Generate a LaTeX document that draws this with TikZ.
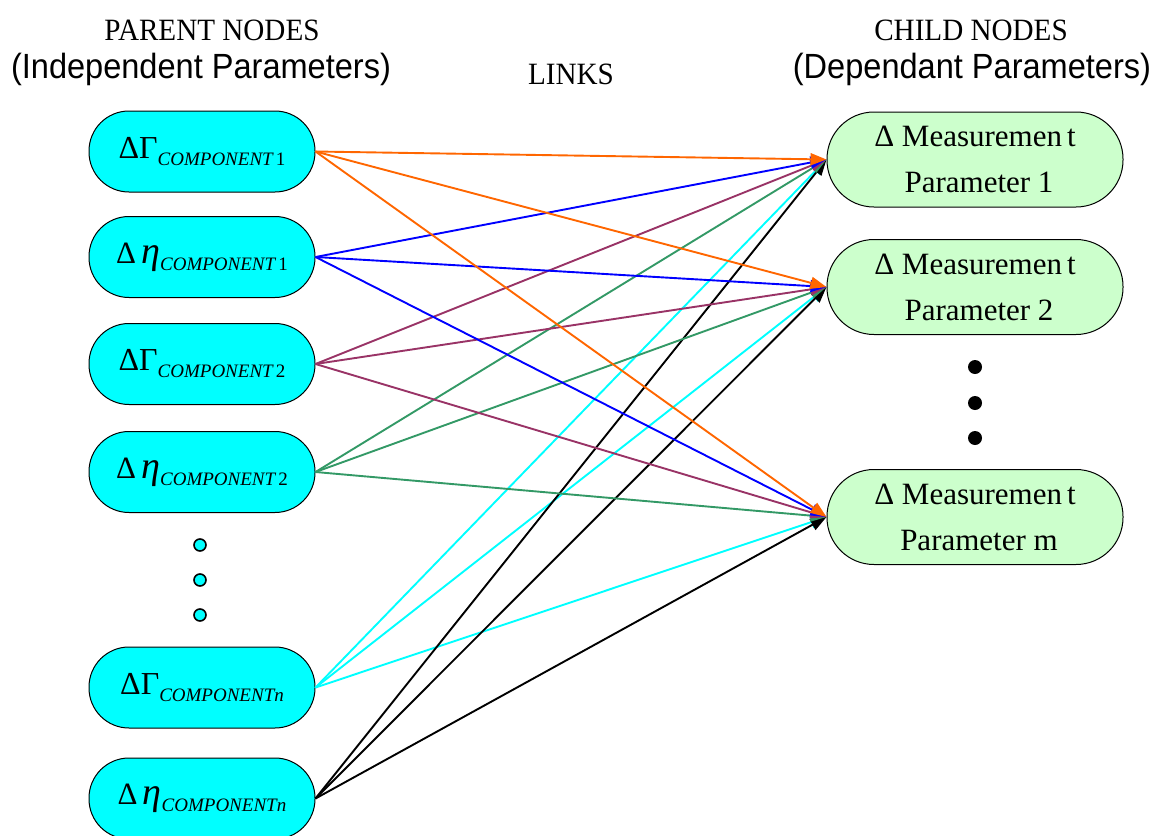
\documentclass[tikz,border=0pt]{standalone}
\usepackage{fontspec}
\setmainfont{Liberation Serif}
\newfontfamily\arialfont{Liberation Sans}
\usetikzlibrary{arrows.meta}

\definecolor{parentfill}{HTML}{00FFFF}
\definecolor{childfill}{HTML}{CCFFCC}
\definecolor{linkorange}{HTML}{FF6600}
\definecolor{linkblue}{HTML}{0000FF}
\definecolor{linkpurple}{HTML}{993366}
\definecolor{linkgreen}{HTML}{339966}
\definecolor{linkcyan}{HTML}{00FFFF}

% Gamma and eta labels with an italic component subscript
\newcommand{\cmpsub}[1]{\raisebox{-7pt}{\fontsize{19}{19}\selectfont #1}}
\newcommand{\gammalabel}[1]{{\fontsize{32}{32}\selectfont ΔΓ}\cmpsub{#1}}
\newcommand{\etalabel}[1]{{\fontsize{31}{31}\selectfont Δ\,{\fontsize{38}{38}\selectfont\itshape η}}\cmpsub{#1}}
% slightly narrowed heading text
\newcommand{\narrow}[2]{\scalebox{#1}[1]{#2}}

\begin{document}
\begin{tikzpicture}[x=1pt,y=-1pt,
  parent/.style={draw=black, line width=1pt, fill=parentfill, rounded corners=40pt,
    minimum width=226pt, minimum height=81pt, inner sep=0pt},
  child/.style={draw=black, line width=1pt, fill=childfill, rounded corners=47pt,
    minimum width=296pt, minimum height=95pt, inner sep=0pt, align=center,
    font=\fontsize{31}{46}\selectfont},
  header/.style={anchor=base, inner sep=0pt, font=\fontsize{31}{31}\selectfont},
  subheader/.style={anchor=base, inner sep=0pt, font=\arialfont\fontsize{35}{35}\selectfont},
  link/.style={line width=1.9pt, -{Triangle[length=16pt,width=12pt]}},
  holddot/.style={circle, draw=black, line width=1.6pt, fill=parentfill, minimum size=12pt, inner sep=0pt},
  childdot/.style={circle, fill=black, minimum size=14pt, inner sep=0pt}]
\useasboundingbox (0,0) rectangle (1158,835);

% column headings
\node[header] (hparent) at (212,40) {\narrow{0.94}{PARENT NODES}};
\node[subheader] (hindep) at (201,78) {\narrow{0.93}{(Independent Parameters)}};
\node[header] (hlinks) at (571,84) {\narrow{0.94}{LINKS}};
\node[header] (hchild) at (971,40) {\narrow{0.94}{CHILD NODES}};
\node[subheader] (hdep) at (972,78) {\narrow{0.93}{(Dependant Parameters)}};

% parent nodes
\node[parent] (g1) at (202,151.5) {\gammalabel{\itshape COMPONENT\,\upshape 1}};
\node[parent] (e1) at (202,257) {\etalabel{\itshape COMPONENT\,\upshape 1}};
\node[parent] (g2) at (202,364) {\gammalabel{\itshape COMPONENT\,\upshape 2}};
\node[parent] (e2) at (202,472) {\etalabel{\itshape COMPONENT\,\upshape 2}};
\node[parent] (gn) at (202,687.5) {\gammalabel{\itshape COMPONENTn}};
\node[parent] (en) at (202,798.5) {\etalabel{\itshape COMPONENTn}};

\node[holddot] (pd1) at (200,545) {};
\node[holddot] (pd2) at (200,580) {};
\node[holddot] (pd3) at (200,615) {};

% child nodes
\node[child] (c1) at (975,159.5) {Δ Measuremen\hspace{5pt}t\\ \hspace{8pt}Parameter 1};
\node[child] (c2) at (975,287) {Δ Measuremen\hspace{5pt}t\\ \hspace{8pt}Parameter 2};
\node[child] (cm) at (975,517) {Δ Measuremen\hspace{5pt}t\\ \hspace{8pt}Parameter m};

\node[childdot] (cd1) at (975,367) {};
\node[childdot] (cd2) at (975,403) {};
\node[childdot] (cd3) at (975,438) {};

% links from every parent to every child
\foreach \p/\c in {gn/linkcyan, en/black, e2/linkgreen, g2/linkpurple, e1/linkblue, g1/linkorange}{
  \draw[link, draw=\c, fill=\c] (\p.east) -- (cm.west);
  \draw[link, draw=\c, fill=\c] (\p.east) -- (c2.west);
  \draw[link, draw=\c, fill=\c] (\p.east) -- (c1.west);
}
\end{tikzpicture}
\end{document}
